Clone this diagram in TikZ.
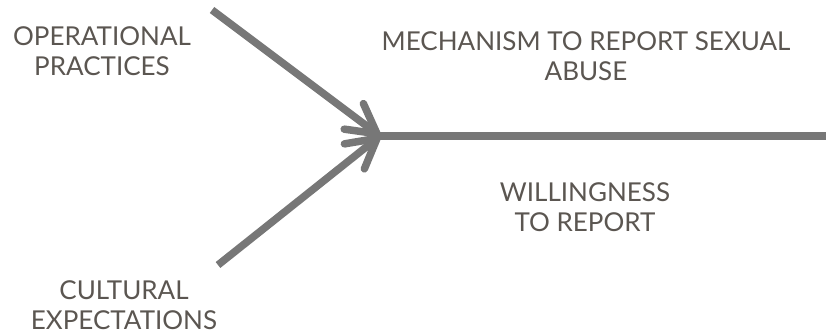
\documentclass[tikz,border=0pt]{standalone}
\usepackage{fontspec}
\setmainfont{Lato}
\usetikzlibrary{arrows.meta}
\definecolor{barbgray}{HTML}{777777}
\definecolor{labelgray}{HTML}{5B5651}
\tikzset{
  label text/.style={text=labelgray, align=center, inner sep=0pt,
    font=\fontsize{26}{30}\selectfont},
  barb/.style={draw=barbgray, line width=7.5pt,
    -{Straight Barb[length=29pt, width=32pt, round]}},
}
\begin{document}
\begin{tikzpicture}[x=1pt, y=-1pt]
      \useasboundingbox (0,0) rectangle (826,336);
      \coordinate (hub) at (380,136);
      \coordinate (opstart) at (212,10);
      \coordinate (cultstart) at (218,265);
      \coordinate (lineend) at (826,136);
      \draw
        (102,51) node[label text] (op){OPERATIONAL\\PRACTICES}
        (586,56) node[label text] (mech){MECHANISM TO REPORT SEXUAL\\ABUSE}
        (585,207) node[label text] (will){WILLINGNESS\\TO REPORT}
        (124,305) node[label text] (cult){CULTURAL\\EXPECTATIONS};
      \begin{scope}[barb]
        \draw (opstart) to (hub);
        \draw (cultstart) to (hub);
      \end{scope}
      \draw[draw=barbgray, line width=7.5pt] (hub) to (lineend);
    \end{tikzpicture}
\end{document}
